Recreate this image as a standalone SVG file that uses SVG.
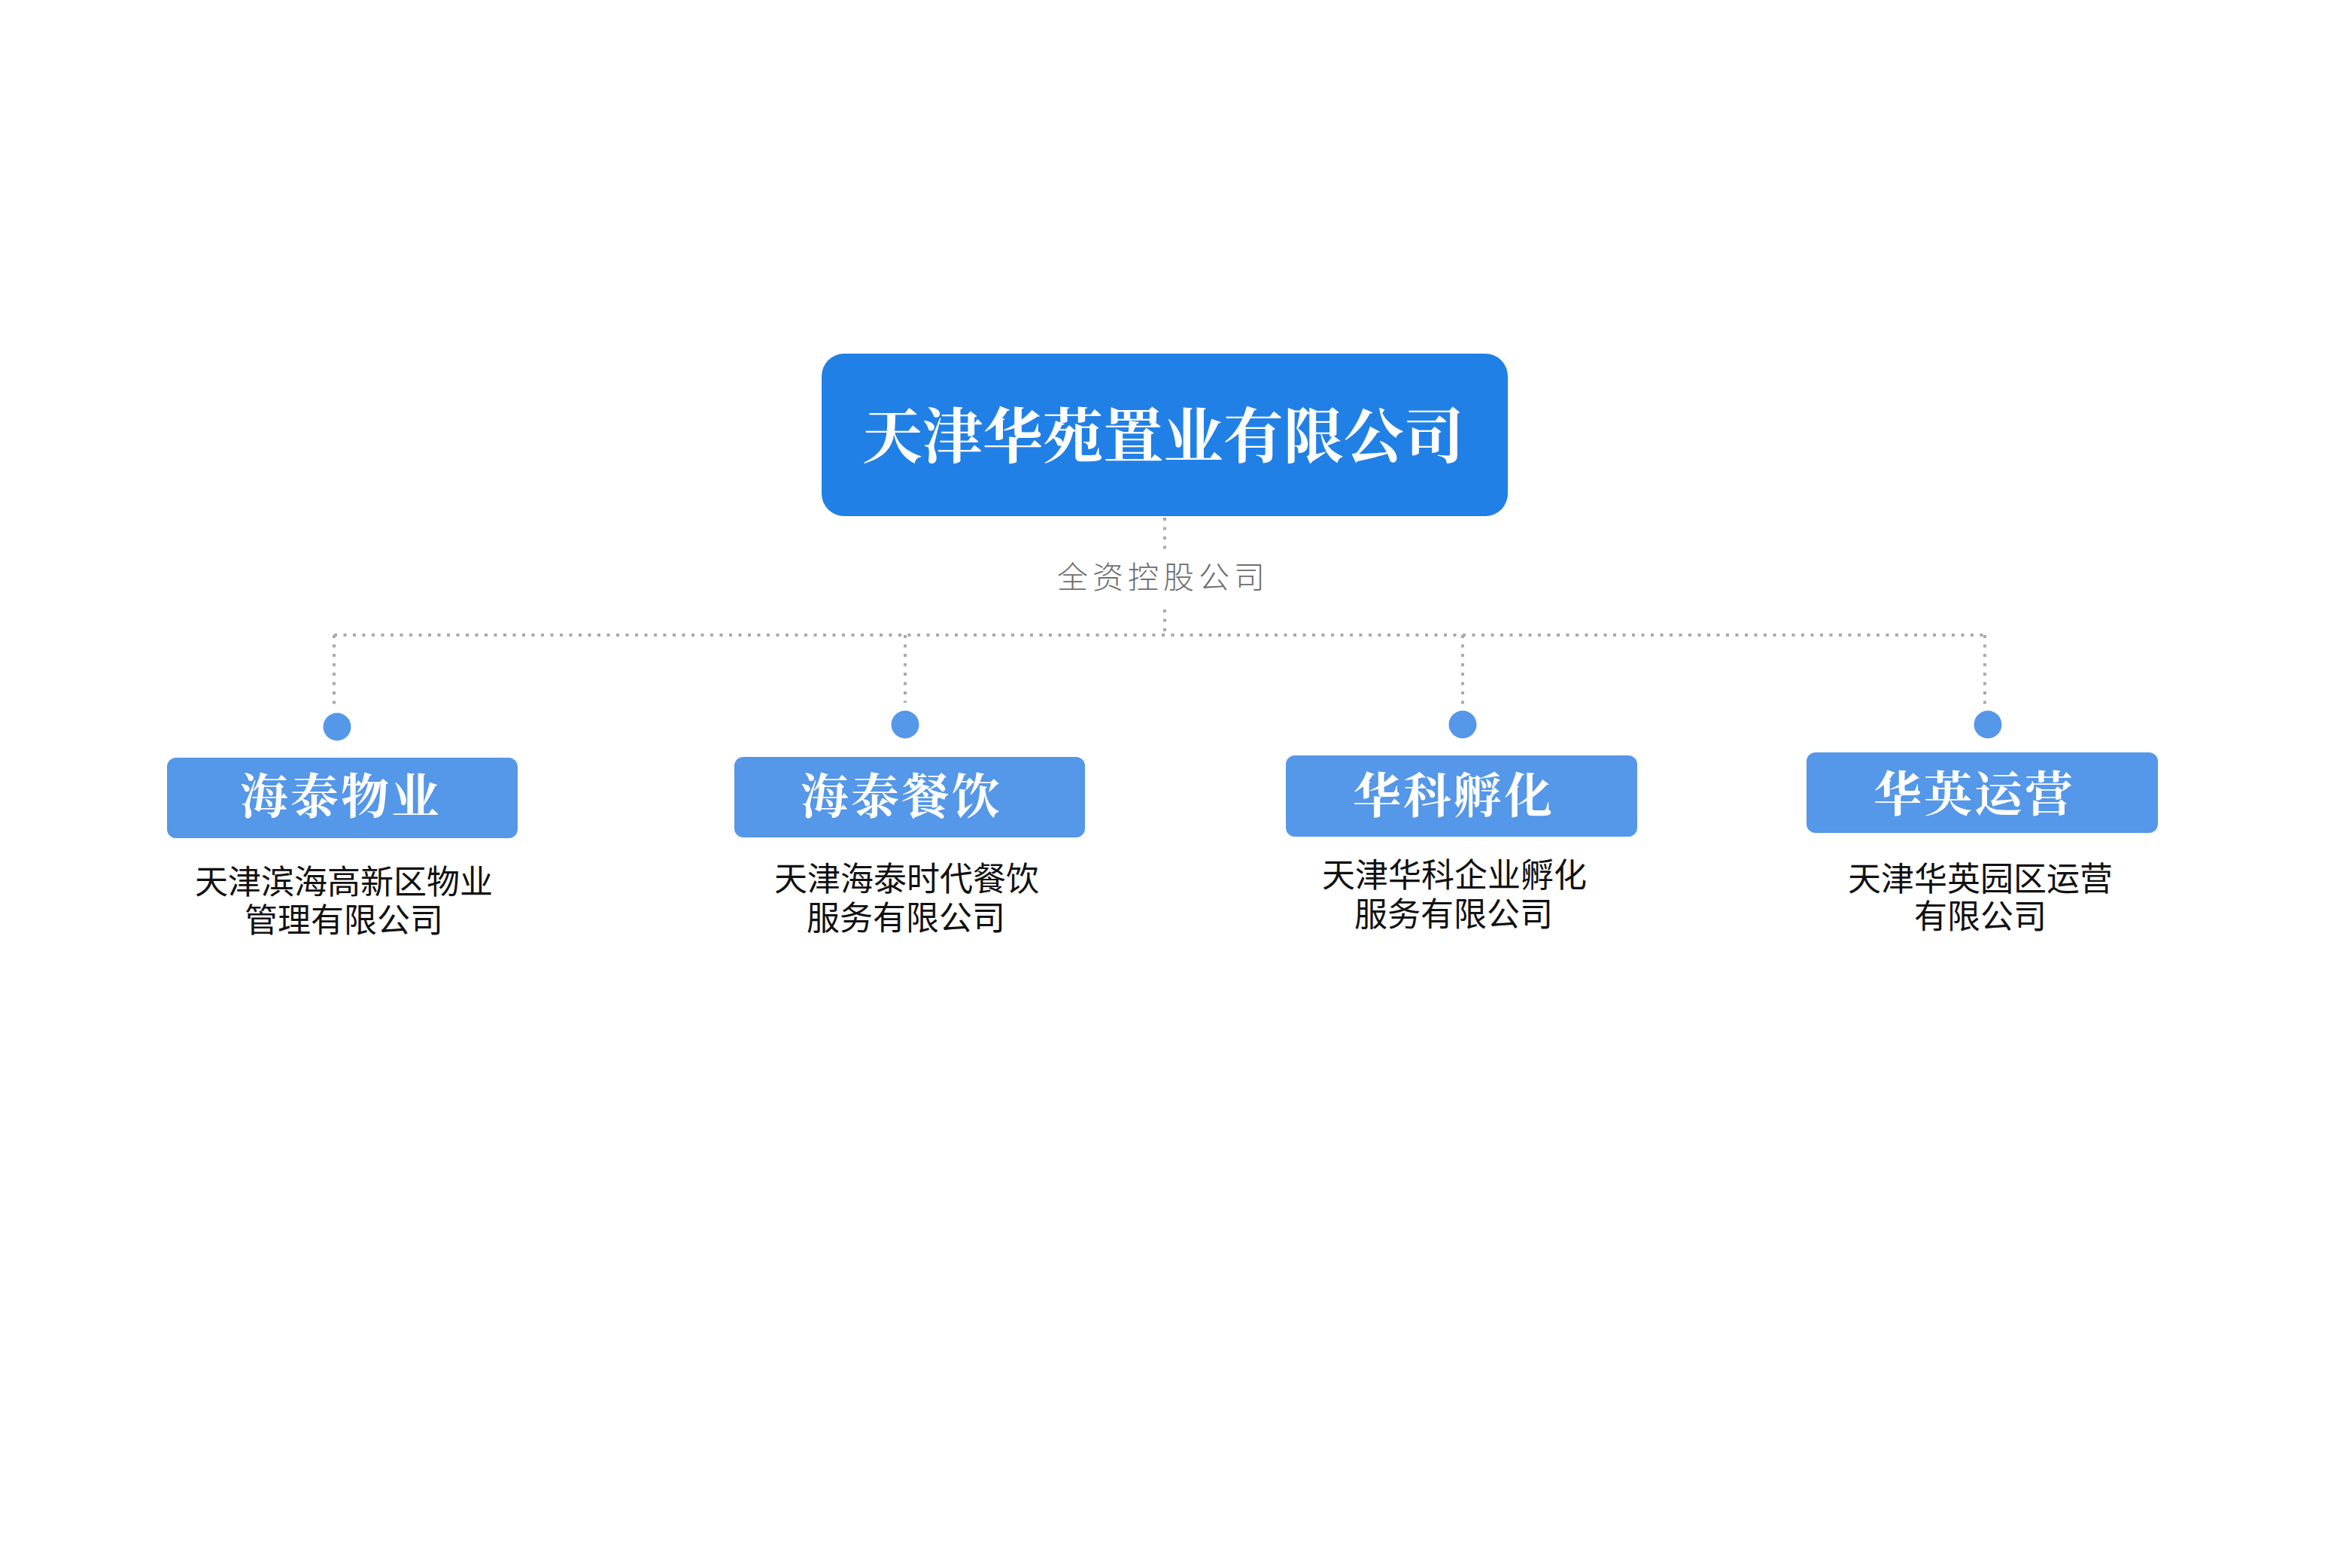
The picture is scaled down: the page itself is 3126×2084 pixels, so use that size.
<svg xmlns="http://www.w3.org/2000/svg" width="3126" height="2084" viewBox="0 0 3126 2084">
  <style>
    .bg { fill: #ffffff; }
    .main { fill: #2180E6; }
    .sub { fill: #5597E8; }
    .dot { fill: #5597E8; }
    .conn { stroke: #A9A9AE; stroke-width: 4; stroke-dasharray: 4 8.5; fill: none; }
    .t-main { font-family: "Noto Serif CJK SC", "Noto Sans CJK SC", serif; font-weight: 700; font-size: 80px; fill: #ffffff; text-anchor: middle; }
    .t-sub { font-family: "Noto Serif CJK SC", "Noto Sans CJK SC", serif; font-weight: 700; font-size: 64px; letter-spacing: 3px; fill: #ffffff; text-anchor: middle; }
    .t-desc { font-family: "Liberation Sans", "Noto Sans CJK SC", sans-serif; font-weight: 400; font-size: 44px; fill: #111111; text-anchor: middle; }
    .t-label { font-family: "Noto Sans CJK SC", sans-serif; font-weight: 300; font-size: 41px; letter-spacing: 6px; fill: #6E6E6E; text-anchor: middle; }
  </style>
  <rect class="bg" x="0" y="0" width="3126" height="2084"/>

  <g id="connectors">
    <line class="conn" x1="1548" y1="688" x2="1548" y2="738"/>
    <line class="conn" x1="1548" y1="810" x2="1548" y2="844"/>
    <line class="conn" x1="444" y1="844" x2="2640" y2="844"/>
    <line class="conn" x1="444" y1="844" x2="444" y2="944"/>
    <line class="conn" x1="1203" y1="844" x2="1203" y2="934"/>
    <line class="conn" x1="1944" y1="844" x2="1944" y2="940"/>
    <line class="conn" x1="2638" y1="844" x2="2638" y2="944"/>
    <text class="t-label" x="1546" y="782">全资控股公司</text>
  </g>

  <g id="node-root">
    <rect class="main" x="1092" y="470" width="912" height="216" rx="30" ry="30"/>
    <text class="t-main" x="1546" y="608">天津华苑置业有限公司</text>
  </g>

  <g id="node-haitai-wuye">
    <circle class="dot" cx="448" cy="966" r="18.5"/>
    <rect class="sub" x="222" y="1007" width="466" height="107" rx="12" ry="12"/>
    <text class="t-sub" x="453" y="1081">海泰物业</text>
    <text class="t-desc" x="457" y="1188">天津滨海高新区物业<tspan x="457" dy="51">管理有限公司</tspan></text>
  </g>

  <g id="node-haitai-canyin">
    <circle class="dot" cx="1203" cy="963" r="18.5"/>
    <rect class="sub" x="976" y="1006" width="466" height="107" rx="12" ry="12"/>
    <text class="t-sub" x="1198" y="1081">海泰餐饮</text>
    <text class="t-desc" x="1205" y="1184">天津海泰时代餐饮<tspan x="1204" dy="52">服务有限公司</tspan></text>
  </g>

  <g id="node-huake-fuhua">
    <circle class="dot" cx="1944" cy="963" r="18.5"/>
    <rect class="sub" x="1709" y="1004" width="467" height="108" rx="12" ry="12"/>
    <text class="t-sub" x="1932" y="1080">华科孵化</text>
    <text class="t-desc" x="1933" y="1179">天津华科企业孵化<tspan x="1932" dy="52">服务有限公司</tspan></text>
  </g>

  <g id="node-huaying-yunying">
    <circle class="dot" cx="2642" cy="963" r="18.5"/>
    <rect class="sub" x="2401" y="1000" width="467" height="107" rx="12" ry="12"/>
    <text class="t-sub" x="2624" y="1078">华英运营</text>
    <text class="t-desc" x="2632" y="1184">天津华英园区运营<tspan x="2632" dy="50">有限公司</tspan></text>
  </g>
</svg>
